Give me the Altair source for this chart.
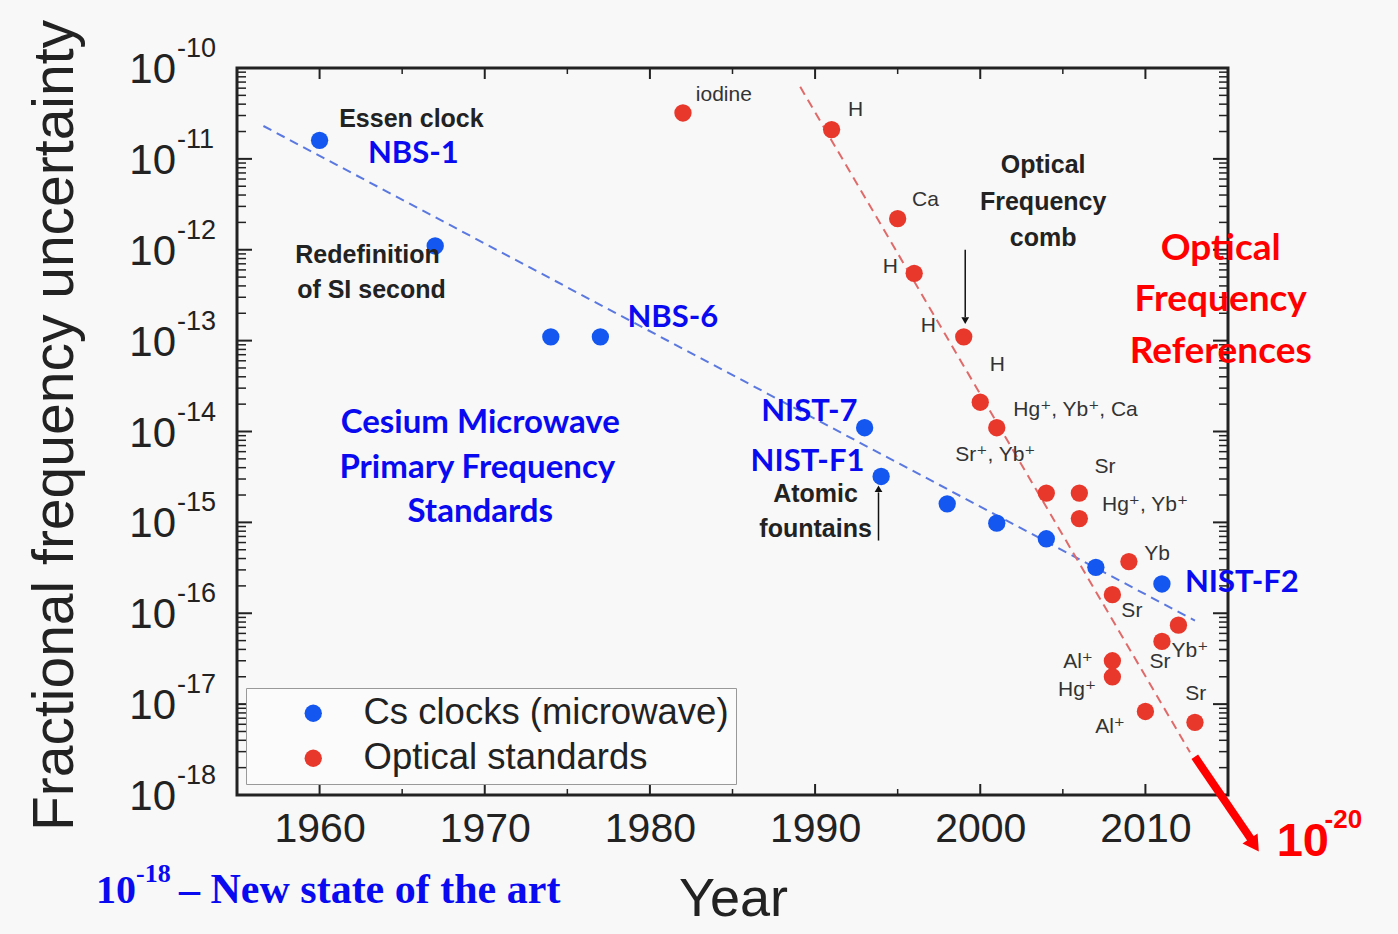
import altair as alt
import pandas as pd

# ---------------- data ----------------
series_names = ["Cs clocks (microwave)", "Optical standards"]
series_colors = ["#1456f0", "#e8382c"]

cs_years = [1960, 1967, 1974, 1977, 1993, 1994, 1998, 2001, 2004, 2007, 2011]
cs_vals = [1.6e-11, 1.1e-12, 1.1e-13, 1.1e-13, 1.1e-14, 3.2e-15, 1.6e-15,
           9.8e-16, 6.6e-16, 3.2e-16, 2.1e-16]

opt_years = [1982, 1991, 1995, 1996, 1999, 2000, 2001, 2004, 2006, 2006,
             2009, 2008, 2012, 2011, 2008, 2008, 2010, 2013]
opt_vals = [3.2e-11, 2.1e-11, 2.2e-12, 5.5e-13, 1.1e-13, 2.1e-14, 1.1e-14,
            2.1e-15, 2.1e-15, 1.1e-15, 3.7e-16, 1.6e-16, 7.4e-17, 4.9e-17,
            3.0e-17, 2.0e-17, 8.3e-18, 6.3e-18]

cs_trend_years = [1956.6, 2013.0]
cs_trend_vals = [2.3e-11, 8.3e-17]
opt_trend_years = [1989.1, 2012.7]
opt_trend_vals = [6.2e-11, 2.95e-18]

x_tick_major = [1960, 1970, 1980, 1990, 2000, 2010]
x_tick_minor = [1965, 1975, 1985, 1995, 2005]
y_exponents = [-10, -11, -12, -13, -14, -15, -16, -17, -18]
minor_mult = [2, 3, 4, 5, 6, 7, 8, 9]

W, H = 991, 727

# ---------------- tables ----------------
pts = pd.DataFrame({
    "year": cs_years + opt_years,
    "val": cs_vals + opt_vals,
    "series": [series_names[0]] * len(cs_years) + [series_names[1]] * len(opt_years),
})
cs_trend = pd.DataFrame({"year": cs_trend_years, "val": cs_trend_vals})
opt_trend = pd.DataFrame({"year": opt_trend_years, "val": opt_trend_vals})

ymaj = pd.DataFrame({"val": [10.0 ** e for e in y_exponents],
                     "exp": [str(e) for e in y_exponents]})
ymin = pd.DataFrame({"val": [m * 10.0 ** e for e in range(-18, -10) for m in minor_mult]})
xmaj = pd.DataFrame({"year": x_tick_major})
xmin = pd.DataFrame({"year": x_tick_minor})

xs = alt.Scale(domain=[1955, 2015], nice=False, zero=False)
ys = alt.Scale(type="log", domain=[1e-18, 1e-10], nice=False)

xaxis = alt.Axis(values=x_tick_major, format="d", grid=False, ticks=False, domain=False,
                 labelFont="Liberation Sans", labelFontSize=41, labelColor="#222",
                 labelPadding=14, title="Year", titleFont="Liberation Sans",
                 titleFontSize=54, titleFontWeight="normal", titleColor="#222",
                 titleX=496, titleY=120, titleBaseline="alphabetic")
yaxis = alt.Axis(labels=False, ticks=False, domain=False, grid=False,
                 title="Fractional frequency uncertainty", titleFont="Liberation Sans",
                 titleFontSize=57, titleFontWeight="normal", titleColor="#222",
                 titleAngle=270, titleX=-182, titleY=357, titleAlign="center",
                 titleBaseline="middle")

X = alt.X("year:Q", scale=xs, axis=xaxis)
Y = alt.Y("val:Q", scale=ys, axis=yaxis)

layers = []

# trend lines
layers.append(alt.Chart(cs_trend).mark_line(color="#5a78e0", strokeWidth=2, strokeDash=[9, 6])
              .encode(x=X, y=Y))
layers.append(alt.Chart(opt_trend).mark_line(color="#e06a6a", strokeWidth=2, strokeDash=[9, 6])
              .encode(x=X, y=Y))

# tick marks (inward)
TK = "#222"
layers.append(alt.Chart(ymaj).mark_rule(color=TK, strokeWidth=2)
              .encode(y=Y, x=alt.value(0), x2=alt.value(15)))
layers.append(alt.Chart(ymaj).mark_rule(color=TK, strokeWidth=2)
              .encode(y=Y, x=alt.value(W - 15), x2=alt.value(W)))
layers.append(alt.Chart(ymin).mark_rule(color=TK, strokeWidth=1.5)
              .encode(y=Y, x=alt.value(0), x2=alt.value(9)))
layers.append(alt.Chart(ymin).mark_rule(color=TK, strokeWidth=1.5)
              .encode(y=Y, x=alt.value(W - 9), x2=alt.value(W)))
layers.append(alt.Chart(xmaj).mark_rule(color=TK, strokeWidth=2)
              .encode(x=X, y=alt.value(H), y2=alt.value(H - 11)))
layers.append(alt.Chart(xmaj).mark_rule(color=TK, strokeWidth=2)
              .encode(x=X, y=alt.value(0), y2=alt.value(11)))
layers.append(alt.Chart(xmin).mark_rule(color=TK, strokeWidth=1.5)
              .encode(x=X, y=alt.value(H), y2=alt.value(H - 6)))
layers.append(alt.Chart(xmin).mark_rule(color=TK, strokeWidth=1.5)
              .encode(x=X, y=alt.value(0), y2=alt.value(6)))

# y tick labels 10^-n
layers.append(alt.Chart(ymaj).mark_text(align="right", baseline="alphabetic", dy=15,
                                        font="Liberation Sans", fontSize=42, color="#222")
              .encode(y=Y, x=alt.value(-61), text=alt.value("10")))
layers.append(alt.Chart(ymaj).mark_text(align="left", baseline="alphabetic", dy=-11,
                                        font="Liberation Sans", fontSize=27, color="#222")
              .encode(y=Y, x=alt.value(-60), text="exp:N"))

# points
layers.append(alt.Chart(pts).mark_circle(size=300, opacity=1).encode(
    x=X, y=Y,
    color=alt.Color("series:N", scale=alt.Scale(domain=series_names, range=series_colors),
                    legend=alt.Legend(title=None, orient="none", legendX=9, legendY=620,
                                      labelFont="Liberation Sans", labelFontSize=36.5,
                                      labelColor="#222", symbolType="circle", symbolSize=300,
                                      symbolStrokeWidth=0, fillColor="#fbfbfb",
                                      strokeColor="#999999", padding=7, symbolOffset=42,
                                      labelOffset=32, rowPadding=8, labelLimit=600))))


def text_layer(rows, align, font, size, weight, color):
    df = pd.DataFrame(rows, columns=["label", "year", "val"])
    return alt.Chart(df).mark_text(align=align, baseline="middle", font=font, fontSize=size,
                                   fontWeight=weight, color=color).encode(x=X, y=Y, text="label:N")


def L(e):
    return 10.0 ** e

# dark bold annotations
layers.append(text_layer([
    ("Essen clock", 1965.56, L(-10.56)),
    ("Redefinition", 1962.9, L(-12.06)),
    ("of SI second", 1963.14, L(-12.44)),
    ("Optical", 2003.81, L(-11.07)),
    ("Frequency", 2003.81, L(-11.47)),
    ("comb", 2003.81, L(-11.87)),
    ("Atomic", 1990.03, L(-14.69)),
    ("fountains", 1990.03, L(-15.07)),
], "center", "Liberation Sans", 25, "bold", "#222"))

# element labels (regular), centered
layers.append(text_layer([
    ("H", 1992.45, L(-10.46)),
    ("Ca", 1996.68, L(-11.45)),
    ("H", 1994.56, L(-12.19)),
    ("H", 1996.86, L(-12.84)),
    ("H", 2001.03, L(-13.27)),
    ("Sr", 2007.55, L(-14.39)),
    ("Yb", 2010.7, L(-15.35)),
    ("Sr", 2009.18, L(-15.97)),
    ("Yb⁺", 2012.69, L(-16.41)),
    ("Sr", 2010.88, L(-16.54)),
    ("Al⁺", 2005.92, L(-16.54)),
    ("Hg⁺", 2005.86, L(-16.85)),
    ("Sr", 2013.05, L(-16.89)),
    ("Al⁺", 2007.86, L(-17.25)),
], "center", "Liberation Sans, DejaVu Sans", 21, "normal", "#333"))

# element labels (regular), left aligned
layers.append(text_layer([
    ("iodine", 1982.78, L(-10.30)),
    ("Hg⁺, Yb⁺, Ca", 2002.0, L(-13.76)),
    ("Sr⁺, Yb⁺", 1998.49, L(-14.26)),
    ("Hg⁺, Yb⁺", 2007.37, L(-14.81)),
], "left", "Liberation Sans, DejaVu Sans", 21, "normal", "#333"))

BLUE = "#0a0af0"
RED = "#ff0000"
# blue labels
layers.append(text_layer([
    ("NBS-1", 1965.68, L(-10.95)),
    ("NBS-6", 1981.39, L(-12.75)),
], "center", "Lato", 31, "bold", BLUE))
layers.append(text_layer([
    ("NIST-7", 1992.57, L(-13.79)),
    ("NIST-F1", 1992.99, L(-14.34)),
], "right", "Lato", 31, "bold", BLUE))
layers.append(text_layer([
    ("NIST-F2", 2012.39, L(-15.67)),
], "left", "Lato", 31, "bold", BLUE))
layers.append(text_layer([
    ("Cesium Microwave", 1969.73, L(-13.91)),
    ("Primary Frequency", 1969.55, L(-14.40)),
    ("Standards", 1969.73, L(-14.89)),
], "center", "Lato", 33, "bold", BLUE))
layers.append(text_layer([
    ("Optical", 2014.56, L(-11.99)),
    ("Frequency", 2014.56, L(-12.55)),
    ("References", 2014.56, L(-13.12)),
], "center", "Lato", 37, "bold", RED))

# thin black arrows
arrows = pd.DataFrame({"year": [1999.09, 1993.84], "val": [L(-12.00), L(-15.20)],
                       "val2": [L(-12.74), L(-14.67)]})
layers.append(alt.Chart(arrows).mark_rule(color="#111", strokeWidth=1.5)
              .encode(x=X, y=Y, y2="val2:Q"))
heads = pd.DataFrame({"year": [1999.09], "val": [L(-12.78)]})
layers.append(alt.Chart(heads).mark_point(shape="triangle-down", filled=True, size=60,
                                          color="#111", opacity=1).encode(x=X, y=Y))
heads2 = pd.DataFrame({"year": [1993.84], "val": [L(-14.63)]})
layers.append(alt.Chart(heads2).mark_point(shape="triangle-up", filled=True, size=60,
                                           color="#111", opacity=1).encode(x=X, y=Y))

# big red arrow towards 10^-20
red_arrow = pd.DataFrame({"year": [2012.99], "val": [L(-17.58)],
                          "year2": [2016.45], "val2": [L(-18.50)]})
layers.append(alt.Chart(red_arrow).mark_rule(color=RED, strokeWidth=8, strokeCap="butt")
              .encode(x=X, y=Y, x2="year2:Q", y2="val2:Q"))
red_head = pd.DataFrame({"year": [2016.6], "val": [L(-18.55)]})
layers.append(alt.Chart(red_head).mark_point(shape="triangle-up", angle=146, filled=True,
                                             size=330, color=RED, opacity=1)
              .encode(x=X, y=Y))
layers.append(text_layer([("10", 2017.95, L(-18.52))], "left", "Liberation Sans", 47, "bold", RED))
layers.append(text_layer([("-20", 2020.85, L(-18.27))], "left", "Liberation Sans", 26, "bold", RED))

# bottom caption "10^-18 – New state of the art"
cap = pd.DataFrame({"t": ["10"]})
layers.append(alt.Chart(cap).mark_text(align="left", baseline="alphabetic",
                                       font="Liberation Serif", fontSize=40, fontWeight="bold",
                                       color=BLUE)
              .encode(x=alt.value(-141), y=alt.value(835), text="t:N"))
cap2 = pd.DataFrame({"t": ["-18"]})
layers.append(alt.Chart(cap2).mark_text(align="left", baseline="alphabetic",
                                        font="Liberation Serif", fontSize=26, fontWeight="bold",
                                        color=BLUE)
              .encode(x=alt.value(-101), y=alt.value(814), text="t:N"))
cap3 = pd.DataFrame({"t": ["– New state of the art"]})
layers.append(alt.Chart(cap3).mark_text(align="left", baseline="alphabetic",
                                        font="Liberation Serif", fontSize=42, fontWeight="bold",
                                        color=BLUE)
              .encode(x=alt.value(-58), y=alt.value(835), text="t:N"))

chart = alt.layer(*layers).properties(
    width=W, height=H,
    autosize=alt.AutoSizeParams(type="none"),
    padding={"left": 237, "top": 68, "right": 170, "bottom": 139},
    background="#f8f8f8",
).configure_view(stroke="#222", strokeWidth=3)

chart.save("out.html", embed_options={"renderer": "svg", "actions": False})
